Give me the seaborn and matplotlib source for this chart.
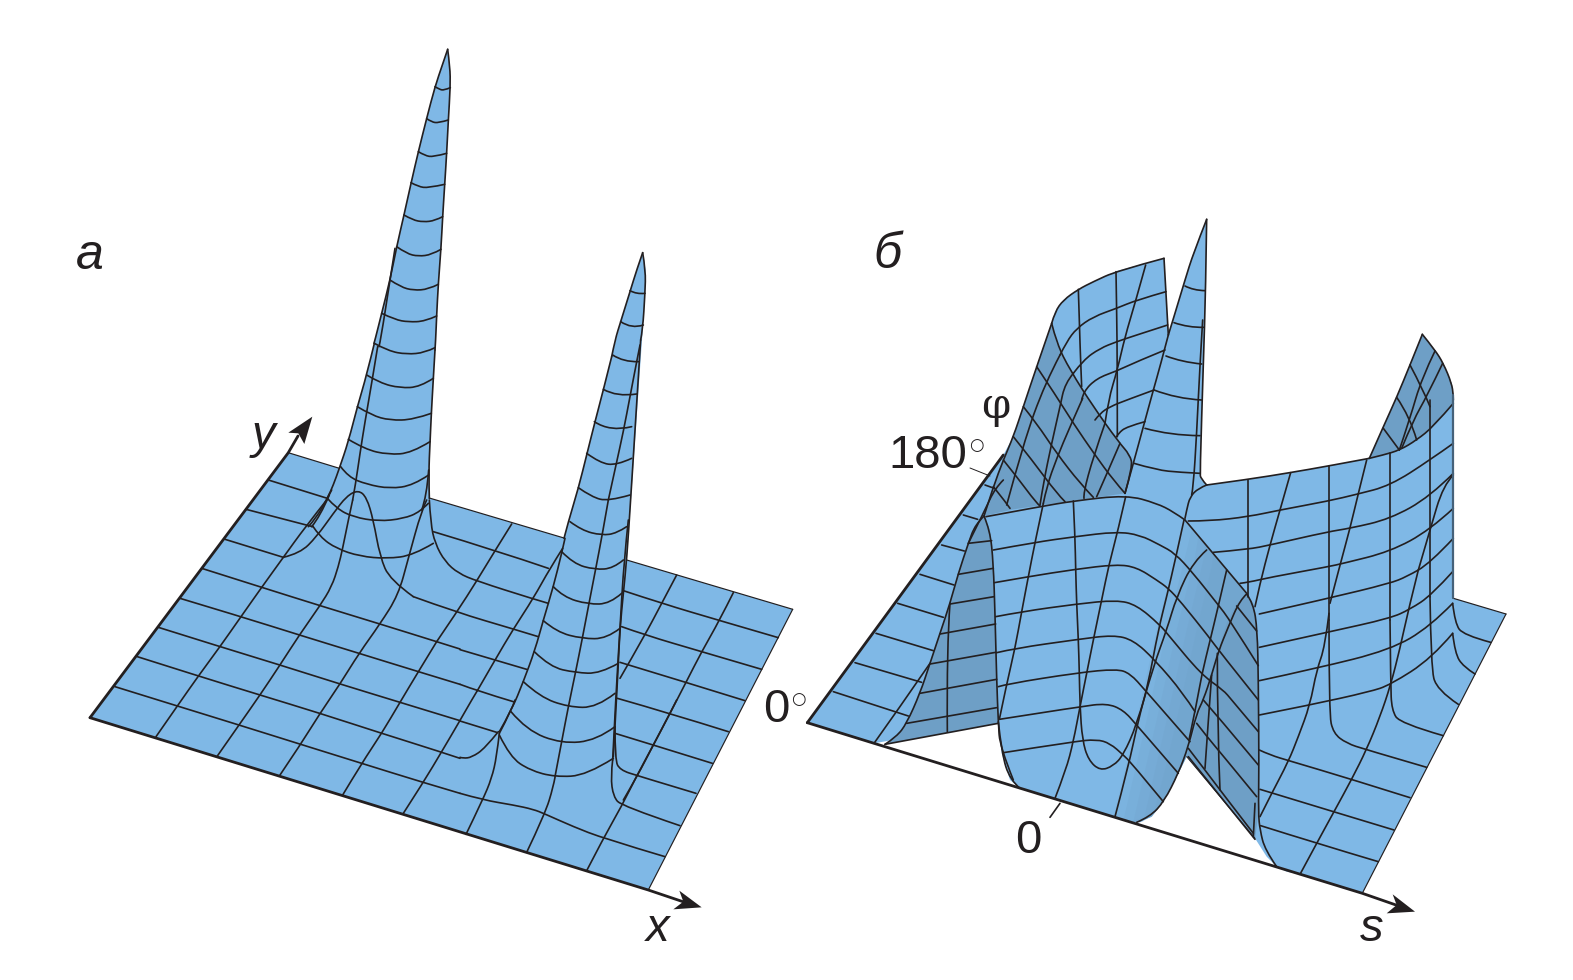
import pandas as pd
import matplotlib
matplotlib.use('Agg')
import matplotlib.pyplot as plt
from matplotlib.patches import PathPatch
from matplotlib.path import Path
import seaborn as sns

LIGHT = '#7FB8E6'
DARK = '#6E9FC6'
INK = '#231F20'

# where each traced sheet sits on the page (traces are in 3x sheet pixels)
SHEETS = {'a1': (280, 40), 'a2': (240, 300), 'a3': (400, 500), 'a4': (60, 500), 'a5': (400, 700),
          'b6': (860, 210), 'b7': (1170, 320), 'b8': (800, 480), 'b9': (960, 480), 'b10': (1170, 570)}

# silhouettes, page pixels
a_outline = [(447.7, 49.3), (450, 66.7), (450.3, 86.7), (448.3, 120), (446.7, 153), (444.7, 185), (442.7, 216.7),
             (441, 248), (438.3, 283), (436.7, 316), (435, 350), (433.3, 378), (431.3, 413), (430, 443), (428.7, 473),
             (429.3, 498), (564, 538), (568.3, 521.7), (578.3, 488), (586.7, 455), (595, 421.7), (603.3, 390),
             (611.7, 356.7), (620.7, 321.7), (630, 291.7), (636.7, 270), (642.7, 252.7), (645.7, 270), (645, 293),
             (642.7, 330), (631, 500), (626.7, 560), (792.7, 609.3), (648.3, 890), (90, 717.7), (288.3, 452.7),
             (339.3, 468.3), (348.3, 441.7), (357.3, 406.7), (366.7, 375), (374.3, 343), (381.7, 313), (390, 280),
             (396.7, 246.7), (404, 215), (411, 183), (418.3, 151.7), (426.7, 118), (435, 86.7), (442.3, 65)]
b_outline = [(807.3, 722.7), (1003.3, 455), (1013.3, 436.7), (1023.3, 406.7), (1036.7, 366.7), (1051.7, 323.3),
             (1055, 311.7), (1063.3, 300), (1078.3, 289.3), (1093.3, 281.7), (1116.7, 271), (1164, 258.3),
             (1168.3, 335), (1175, 313.3), (1185, 280), (1193.3, 253.3), (1206.7, 219.3), (1205.7, 290),
             (1203.3, 363.3), (1200, 473.3), (1200.7, 478.3), (1206.7, 485), (1248.3, 479.3), (1290, 472.7),
             (1328.3, 466), (1369.3, 458.3), (1383.3, 426.7), (1396.7, 397.3), (1410, 365), (1422.3, 334.3),
             (1435, 350), (1443.3, 363.3), (1451.7, 383.3), (1453.3, 395), (1453.3, 598.3), (1506, 614),
             (1362.3, 893.3), (1300, 874.3), (1286.7, 871.7), (1276.7, 866.7), (1266.7, 856.7), (1255, 838.3),
             (1186.7, 756.7), (1176.7, 776.7), (1163.3, 801.7), (1151.7, 816.7), (1140, 822.3), (1130, 821.7),
             (1020, 788.3), (1010, 780), (1001.7, 753.3), (997.7, 721.7), (874, 743.3)]

# shaded parts of panel b
dark_back = [(575, 340), (590, 400), (630, 480), (700, 590), (775, 695), (810, 735), (818, 770), (795, 850),
             (640, 872), (460, 898), (372, 918), (400, 830), (430, 750), (460, 680), (490, 590), (530, 470)]
dark_arch = [(552, 108), (570, 150), (580, 250), (585, 400), (590, 600), (595, 730), (255, 793), (290, 770),
             (320, 730), (360, 640), (390, 550), (420, 460), (450, 370), (475, 280), (505, 190), (525, 135)]
dark_second = [(860, 342), (880, 370), (892, 450), (895, 600), (897, 860), (895, 1000), (885, 1078), (680, 830),
               (720, 690), (775, 510), (800, 430), (830, 370)]
dark_corner = [(598, 415), (640, 320), (680, 232), (720, 135), (757, 43), (795, 90), (820, 130), (845, 190),
               (850, 225), (848, 255), (800, 310), (740, 360), (690, 390), (640, 405)]
slope_edge = [(860, 340), (830, 370), (800, 440), (775, 510), (750, 590), (720, 690), (680, 830), (650, 890),
              (610, 965), (575, 1010), (530, 1027), (510, 1025)]
slope_shade_1 = [(460, 1012), (500, 850), (530, 720), (590, 450), (645, 232), (675, 120)]
slope_shade_2 = [(490, 1022), (530, 850), (560, 720), (620, 450), (675, 232), (695, 150)]
slope_shade_3 = [(520, 1026), (560, 850), (590, 720), (650, 450), (705, 232), (715, 170)]
slope_shade_4 = [(550, 1025), (590, 850), (620, 720), (680, 450), (730, 240), (735, 195)]
slope_shade_5 = [(580, 1005), (620, 850), (650, 720), (710, 450), (755, 260), (760, 225)]

# thick axis edges and thin outer edges, page pixels
a_edges = [[(90, 717.7), (288.3, 452.7), (298, 436)], [(90, 717.7), (648.3, 890), (683, 901.7)]]
b_edges = [[(807.3, 722.7), (1003.3, 455)], [(807.3, 722.7), (874, 743.3), (1362.3, 893.3), (1396, 905)]]
a_thin = [[(288.3, 452.7), (339.3, 468.3)], [(429.3, 498), (564, 538)], [(626.7, 560), (792.7, 609.3)], [(792.7, 609.3), (648.3, 890)]]
b_thin = [[(1453.3, 598.3), (1506, 614)], [(1506, 614), (1362.3, 893.3)]]

a1_lines = [[(503, 28), (487, 75), (465, 140), (440, 235), (415, 335), (393, 430), (372, 525), (350, 620), (330, 720), (305, 820), (285, 900), (282, 910)],
            [(503, 28), (510, 80), (511, 140), (505, 240), (500, 340), (494, 435), (488, 530), (483, 625), (475, 730), (470, 825), (467, 900), (465, 930)],
            [(465, 140), (478, 148), (492, 151), (511, 143)],
            [(440, 236), (455, 246), (475, 249), (505, 240)],
            [(415, 335), (435, 347), (460, 351), (500, 340)],
            [(393, 428), (415, 440), (445, 444), (494, 433)],
            [(372, 525), (398, 540), (430, 546), (465, 542), (488, 530)],
            [(350, 620), (380, 641), (415, 649), (455, 644), (483, 628)],
            [(330, 720), (362, 741), (400, 751), (445, 748), (475, 733)],
            [(305, 820), (345, 839), (385, 846), (435, 844), (470, 828)],
            [(345, 625), (330, 720), (302, 900), (297, 920)],
            [(1088, 638), (1070, 690), (1050, 755), (1022, 845), (1005, 900), (995, 950)],
            [(1088, 638), (1097, 690), (1095, 760), (1088, 870), (1082, 900)],
            [(1050, 752), (1070, 763), (1095, 760)],
            [(1022, 845), (1055, 867), (1090, 855)]]

a2_lines = [[(403, 130), (380, 225), (352, 320), (325, 425), (298, 505), (280, 555), (262, 595), (228, 655), (205, 680)],
            [(585, 150), (580, 235), (574, 340), (570, 430), (566, 520), (568, 595)],
            [(413, 140), (395, 250), (375, 365), (360, 460), (347, 550), (338, 600)],
            [(566, 510), (560, 590), (545, 630)],
            [(403, 130), (445, 153), (500, 163), (555, 158), (585, 143)],
            [(380, 225), (420, 249), (480, 264), (540, 261), (580, 235)],
            [(352, 320), (395, 346), (450, 361), (520, 359), (574, 340)],
            [(325, 418), (375, 448), (445, 464), (515, 459), (570, 425)],
            [(302, 500), (325, 531), (380, 553), (450, 566), (520, 556), (566, 525)],
            [(262, 595), (290, 626), (340, 651), (415, 664), (490, 656), (540, 636), (565, 610)],
            [(218, 678), (240, 711), (290, 746), (360, 769), (440, 776), (520, 766), (580, 730)],
            [(130, 772), (180, 760), (230, 710), (280, 640), (320, 588), (355, 570), (380, 592), (400, 660), (420, 770), (450, 840), (520, 890)],
            [(262, 595), (275, 570)],
            [(215, 680), (240, 650), (268, 585)],
            [(85, 540), (262, 595)],
            [(18, 628), (218, 680)],
            [(580, 695), (770, 752), (925, 805)],
            [(1115, 170), (1090, 270), (1065, 365), (1040, 465), (1015, 565), (985, 665), (972, 715)],
            [(1105, 600), (1128, 495), (1150, 395), (1170, 290), (1190, 185), (1200, 135)],
            [(1118, 165), (1150, 186), (1195, 185)],
            [(1090, 268), (1130, 291), (1190, 282)],
            [(1063, 365), (1110, 396), (1175, 380)],
            [(1040, 460), (1080, 489), (1130, 496), (1175, 475)],
            [(1015, 563), (1055, 591), (1105, 604), (1170, 585)]]

a3_lines = [[(88, 0), (92, 70), (105, 130), (135, 185), (175, 220), (230, 243), (400, 297), (445, 310)],
            [(40, 290), (170, 337), (340, 387), (415, 410)],
            [(180, 449), (285, 480), (380, 508)],
            [(180, 553), (230, 572), (340, 605)],
            [(180, 663), (290, 697)],
            [(180, 772), (190, 775), (215, 772), (255, 745), (295, 695)],
            [(110, 425), (170, 337), (230, 243), (285, 152), (335, 72)],
            [(232, 572), (285, 480), (340, 387), (400, 295), (450, 205), (488, 145)],
            [(298, 695), (335, 630), (370, 545), (405, 450), (430, 360), (460, 260), (485, 160), (495, 115)],
            [(465, 830), (485, 725), (505, 620), (527, 515), (547, 415), (567, 310), (587, 207), (607, 103), (625, 0)],
            [(722, -480), (692, 0), (680, 180), (670, 280), (660, 385), (655, 490), (645, 680), (640, 770)],
            [(685, 60), (672, 180), (660, 385), (648, 580), (638, 780)],
            [(645, 680), (645, 780), (660, 810), (715, 828), (888, 880)],
            [(670, 272), (785, 310), (960, 362), (1135, 413)],
            [(665, 380), (735, 405), (905, 455), (1085, 508)],
            [(660, 487), (858, 547), (1035, 602)],
            [(652, 595), (810, 640), (985, 695)],
            [(645, 700), (760, 735), (937, 790)],
            [(830, 225), (785, 310), (735, 405), (660, 535)],
            [(1000, 278), (958, 362), (905, 455), (858, 547), (810, 640), (760, 735), (712, 828), (670, 900)],
            [(510, 65), (545, 91), (605, 106), (650, 100), (680, 80)],
            [(485, 155), (520, 191), (585, 209), (640, 205), (670, 180)],
            [(460, 260), (490, 291), (565, 313), (630, 311), (665, 280)],
            [(430, 362), (470, 396), (547, 416), (620, 416), (660, 385)],
            [(403, 455), (450, 501), (527, 518), (600, 521), (655, 490)],
            [(370, 545), (420, 591), (505, 621), (590, 623), (645, 580)],
            [(333, 635), (380, 691), (485, 731), (590, 721), (645, 680)],
            [(298, 705), (330, 771), (390, 811), (465, 831), (560, 826), (640, 775)]]

a4_lines = [[(492, 117), (670, 172)],
            [(425, 205), (605, 262), (780, 317), (960, 372), (1130, 425), (1200, 447)],
            [(360, 295), (543, 350), (718, 405), (897, 460), (1075, 515), (1200, 553)],
            [(295, 382), (480, 440), (660, 495), (840, 552), (1020, 607), (1200, 662)],
            [(232, 470), (415, 528), (600, 585), (780, 640), (965, 700), (1140, 755), (1200, 775)],
            [(165, 560), (352, 618), (537, 675), (722, 733), (905, 790), (1088, 847), (1200, 880)],
            [(288, 710), (352, 618), (415, 528), (480, 440), (543, 350), (605, 262), (670, 172), (735, 82), (800, 0)],
            [(472, 768), (537, 675), (600, 585), (660, 495), (718, 405), (780, 317), (815, 260), (835, 200), (848, 145), (865, 60), (878, 0)],
            [(660, 825), (722, 733), (780, 640), (840, 552), (897, 460), (960, 372), (1015, 285), (1045, 175), (1085, 30), (1100, 0)],
            [(848, 885), (905, 790), (965, 700), (1020, 607), (1075, 515), (1130, 425)]]

a5_lines = [[(180, 280), (250, 300), (340, 315), (400, 328), (435, 342), (520, 380), (610, 415), (795, 470)],
            [(10, 340), (70, 247), (125, 155), (178, 65), (215, 0), (232, -28)],
            [(198, 403), (248, 300), (275, 235), (290, 170), (298, 100)],
            [(298, 100), (335, 30), (345, 0)],
            [(380, 457), (435, 342), (460, 260), (465, 232)],
            [(638, 180), (632, 230), (640, 290), (665, 318), (840, 377)],
            [(830, 0), (810, 40), (760, 135), (710, 228), (665, 318), (610, 415), (560, 512)]]

b6_lines = [[(575, 340), (590, 400), (630, 480), (700, 590), (775, 695), (810, 735), (818, 770), (795, 850)],
            [(575, 340), (585, 305), (610, 270), (655, 238), (700, 215), (770, 183), (912, 145)],
            [(912, 145), (925, 375)],
            [(925, 375), (945, 310), (975, 210), (1000, 130), (1040, 28)],
            [(1040, 28), (1037, 240), (1030, 460), (1020, 790), (1022, 805), (1040, 825)],
            [(655, 238), (658, 330), (660, 400), (663, 480), (665, 530)],
            [(768, 185), (770, 300), (772, 480), (772, 680)],
            [(857, 165), (825, 280), (795, 380), (772, 480), (745, 570), (735, 640)],
            [(918, 245), (830, 270), (770, 295), (700, 320), (650, 355), (620, 395), (600, 435)],
            [(923, 345), (830, 375), (770, 395), (720, 415), (670, 450), (640, 490)],
            [(915, 420), (830, 455), (770, 483), (710, 505), (670, 545), (665, 570)],
            [(882, 540), (800, 570), (750, 590), (720, 610), (705, 630)],
            [(855, 635), (800, 650), (775, 670), (770, 680)],
            [(925, 375), (900, 470), (880, 540), (850, 650), (820, 760), (795, 850)],
            [(975, 228), (1000, 241), (1035, 242)],
            [(942, 338), (985, 353), (1032, 352)],
            [(918, 438), (965, 456), (1025, 462)],
            [(882, 540), (950, 566), (1025, 570)],
            [(855, 655), (930, 676), (1020, 677)],
            [(822, 760), (890, 780), (960, 787), (1020, 790)],
            [(530, 470), (590, 560), (640, 640), (705, 735), (760, 810), (795, 850)],
            [(490, 590), (530, 640), (590, 730), (660, 820), (700, 862)],
            [(460, 680), (520, 755), (590, 850), (615, 875)],
            [(430, 750), (470, 800), (530, 880), (540, 888)],
            [(400, 830), (440, 880), (450, 895)],
            [(780, 700), (750, 770), (710, 860)],
            [(600, 435), (555, 520), (490, 700), (440, 885)],
            [(640, 490), (615, 520), (600, 590), (575, 700), (550, 820), (540, 885)],
            [(668, 565), (630, 650), (590, 745), (560, 830), (550, 880)],
            [(735, 640), (700, 740), (670, 850), (672, 865)],
            [(575, 340), (530, 470), (490, 590), (460, 680), (430, 750), (400, 830), (372, 918)]]

b7_lines = [[(110, 495), (235, 478), (360, 458), (475, 438), (598, 415)],
            [(598, 415), (640, 320), (680, 232), (720, 135), (757, 43)],
            [(757, 43), (795, 90), (820, 130), (845, 190), (850, 225), (850, 240)],
            [(98, 0), (90, 130), (80, 340), (70, 500), (65, 525)],
            [(110, 495), (85, 505), (60, 530), (50, 570), (45, 595)],
            [(55, 603), (120, 603), (235, 590), (330, 570), (475, 543), (560, 523), (660, 497), (780, 420), (850, 370)],
            [(130, 697), (235, 688), (300, 675), (475, 635), (540, 625), (660, 597), (780, 530), (850, 460)],
            [(210, 790), (235, 787), (300, 772), (475, 740), (520, 730), (660, 695), (780, 630), (850, 565)],
            [(268, 882), (475, 835), (660, 790), (710, 770), (780, 730), (850, 655)],
            [(235, 480), (235, 830)],
            [(362, 458), (330, 570), (300, 675), (270, 790), (255, 860)],
            [(477, 438), (477, 900)],
            [(590, 420), (565, 520), (540, 625), (510, 735), (480, 850)],
            [(660, 400), (660, 900)],
            [(850, 465), (820, 495), (780, 630), (745, 750)],
            [(780, 240), (780, 830)],
            [(720, 135), (760, 210), (780, 260)],
            [(680, 232), (720, 290), (740, 360)],
            [(640, 325), (688, 390)],
            [(795, 93), (755, 175), (720, 295), (688, 390)],
            [(818, 130), (770, 230), (730, 300), (695, 385)],
            [(598, 415), (640, 405), (690, 390), (740, 360), (790, 320), (850, 250)]]

b8_lines = [[(100, 635), (325, 708)], [(165, 548), (365, 607)], [(228, 460), (400, 512)], [(293, 370), (430, 412)],
            [(360, 283), (462, 315)], [(425, 195), (493, 213)], [(490, 105), (533, 118)], [(555, 15), (583, 25)],
            [(255, 793), (290, 770), (320, 730), (360, 640), (390, 550), (420, 460), (450, 370), (475, 280), (505, 190), (525, 135), (552, 108)],
            [(222, 790), (290, 695), (390, 550)],
            [(505, 190), (555, 90), (585, 25), (610, 0)],
            [(320, 730), (590, 683)], [(360, 640), (590, 598)], [(390, 552), (587, 517)], [(420, 462), (587, 432)],
            [(450, 372), (582, 350)], [(475, 283), (580, 265)], [(505, 190), (575, 182)],
            [(450, 370), (440, 500), (442, 755)],
            [(552, 108), (570, 150), (580, 250), (585, 400), (590, 600), (595, 730), (600, 800), (640, 900)],
            [(255, 793), (595, 730)]]

b9_lines = [[(78, 110), (240, 80), (340, 63), (500, 45), (590, 70), (640, 95), (675, 120)],
            [(675, 120), (860, 340)],
            [(100, 210), (225, 187), (345, 170), (470, 155), (540, 165), (600, 195), (645, 220), (698, 278), (775, 375), (808, 418), (895, 557)],
            [(103, 308), (205, 290), (345, 268), (470, 253), (530, 262), (590, 300), (625, 325), (662, 365), (750, 475), (775, 510), (895, 660)],
            [(107, 410), (185, 395), (350, 372), (470, 360), (530, 375), (600, 435), (625, 465), (725, 585), (790, 630), (815, 660), (895, 755)],
            [(110, 518), (165, 505), (355, 478), (460, 465), (520, 480), (585, 540), (670, 640), (705, 695)],
            [(730, 660), (770, 705), (895, 855)],
            [(710, 730), (745, 775), (775, 810), (890, 950)],
            [(685, 805), (735, 870), (780, 930), (880, 1060)],
            [(830, 378), (890, 453)],
            [(115, 620), (140, 612), (355, 578), (470, 567), (510, 580), (555, 630), (690, 785)],
            [(118, 718), (360, 680), (440, 670), (490, 690), (530, 735), (655, 880)],
            [(130, 818), (340, 785), (410, 778), (450, 790), (490, 825), (515, 850), (610, 965)],
            [(340, 63), (345, 170), (347, 268), (350, 372), (355, 478), (358, 578), (360, 680), (367, 780), (385, 840), (420, 872), (460, 858), (490, 825), (530, 735), (580, 560), (620, 450), (650, 350), (700, 245), (740, 210)],
            [(497, 50), (473, 155), (447, 253), (425, 360), (403, 465), (382, 570), (360, 680), (340, 785), (318, 870), (285, 955)],
            [(250, 70), (225, 187), (205, 290), (185, 395), (165, 505), (140, 612), (118, 718)],
            [(672, 120), (648, 230), (620, 350), (595, 450), (565, 610), (535, 720), (505, 860), (465, 1010)],
            [(800, 270), (775, 378), (750, 482), (725, 585), (712, 660), (687, 780)],
            [(860, 342), (840, 360), (805, 440), (775, 515), (755, 585), (730, 660), (710, 700), (685, 800), (655, 880), (612, 965), (570, 1010), (530, 1027)],
            [(860, 342), (880, 370), (892, 450), (895, 600), (897, 860), (895, 1000), (900, 1050), (915, 1110), (950, 1160)],
            [(115, 725), (125, 820), (150, 900), (180, 925)],
            [(685, 830), (885, 1078)],
            [(300, 970), (270, 1012)]]

b10_lines = [[(268, 232), (480, 185), (660, 145), (720, 118), (785, 75), (848, 5)],
             [(268, 332), (440, 295), (660, 240), (780, 170), (848, 100)],
             [(268, 435), (420, 405), (600, 365), (660, 345), (785, 265), (848, 190)],
             [(477, 150), (477, 430), (490, 490), (530, 520), (585, 538), (770, 592)],
             [(477, 130), (465, 230), (440, 300), (420, 405), (385, 500), (355, 575), (305, 670), (270, 740)],
             [(660, 150), (662, 340), (665, 420), (690, 460), (820, 497)],
             [(745, 0), (715, 120), (690, 235), (662, 345), (630, 440), (590, 538), (545, 628), (492, 725), (440, 820), (390, 913)],
             [(780, 80), (783, 290), (800, 360), (865, 403)],
             [(848, 100), (855, 160), (880, 195), (962, 217)],
             [(848, 190), (855, 250), (880, 290), (915, 312)],
             [(268, 540), (300, 555), (360, 573), (545, 628), (720, 683)],
             [(270, 658), (490, 725), (672, 780)],
             [(272, 767), (440, 820), (625, 875)],
             [(125, 315), (115, 450), (105, 595)],
             [(142, 250), (142, 480), (150, 660)],
             [(255, 700), (250, 800)]]

# arrow heads, 3x sheet pixels
head_y = [(217, 350), (145, 398), (175, 400), (193, 432)]
head_x = [(905, 622), (838, 572), (850, 605), (820, 628)]
head_s = [(735, 1025), (668, 973), (680, 1005), (650, 1030)]

traced = [('a1', a1_lines), ('a2', a2_lines), ('a3', a3_lines), ('a4', a4_lines), ('a5', a5_lines),
          ('b6', b6_lines), ('b7', b7_lines), ('b8', b8_lines), ('b9', b9_lines), ('b10', b10_lines)]


def to_page(sheet, pts):
    ox, oy = SHEETS[sheet]
    return [(ox + x / 3, oy + y / 3) for x, y in pts]


def draw_straight(segments, width, color=INK):
    rows = [(i, x, y) for i, pts in enumerate(segments) for x, y in pts]
    table = pd.DataFrame(rows, columns=['line', 'x', 'y'])
    sns.lineplot(data=table, x='x', y='y', units='line', estimator=None, sort=False, color=color,
                 linewidth=width, solid_capstyle='round', solid_joinstyle='round', legend=False, ax=ax, zorder=4)


def draw_curve(pts, width):
    # traced points act as the control polygon of a quadratic path
    verts = [pts[0]]
    codes = [Path.MOVETO]
    for i in range(1, len(pts) - 1):
        if i < len(pts) - 2:
            end = ((pts[i][0] + pts[i + 1][0]) / 2, (pts[i][1] + pts[i + 1][1]) / 2)
        else:
            end = pts[-1]
        verts += [pts[i], end]
        codes += [Path.CURVE3, Path.CURVE3]
    ax.add_patch(PathPatch(Path(verts, codes), fill=False, edgecolor=INK, lw=width, capstyle='round', zorder=4))


sns.set_theme(style='white')
plt.rcParams['font.family'] = ['Liberation Sans', 'DejaVu Sans']

fig = plt.figure(figsize=(15.73, 9.8), dpi=100)
ax = fig.add_axes([0, 0, 1, 1])

# surfaces
ax.fill(*zip(*a_outline), color=LIGHT, lw=0, zorder=1)
ax.fill(*zip(*b_outline), color=LIGHT, lw=0, zorder=1)
ax.fill(*zip(*to_page('b6', dark_back)), color=DARK, lw=0, zorder=2)
ax.fill(*zip(*to_page('b8', dark_arch)), color=DARK, lw=0, zorder=2)
ax.fill(*zip(*to_page('b7', dark_corner)), color=DARK, lw=0, zorder=2)
# soft shading down the ridge
for shade in [slope_shade_1, slope_shade_2, slope_shade_3, slope_shade_4, slope_shade_5]:
    ax.fill(*zip(*to_page('b9', shade + slope_edge)), color=DARK, alpha=0.2, lw=0, zorder=2)
ax.fill(*zip(*to_page('b9', dark_second)), color=DARK, lw=0, zorder=3)

# mesh
straight = []
for sheet, lines in traced:
    for pts in lines:
        page = to_page(sheet, pts)
        if len(page) == 2:
            straight.append(page)
        else:
            draw_curve(page, 1.2)
draw_straight(straight, 1.2)
draw_straight(a_thin + b_thin, 0.85)
draw_straight(a_edges + b_edges, 2.0)
draw_straight([[(1453.3, 395), (1453.3, 598.3)]], 1.6, '#46627A')
draw_straight([[(970, 468), (990, 476)], [(1186.7, 756.7), (1255, 838.3)]], 0.7)

# arrows
for sheet, head in [('a2', head_y), ('a5', head_x), ('b10', head_s)]:
    ax.fill(*zip(*to_page(sheet, head)), color=INK, lw=0, zorder=5)

# labels
ax.text(90, 256, 'а', fontsize=36, style='italic', ha='center', va='center', color=INK)
ax.text(888, 255, 'б', fontsize=36, style='italic', ha='center', va='center', color=INK)
ax.text(263, 436, 'y', fontsize=34, style='italic', ha='center', va='center', color=INK)
ax.text(658, 929, 'x', fontsize=34, style='italic', ha='center', va='center', color=INK)
ax.text(1372, 929, 's', fontsize=34, style='italic', ha='center', va='center', color=INK)
ax.text(996, 406, 'φ', fontsize=30, ha='center', va='center', color=INK, family='DejaVu Serif')
ax.text(928, 456, '180', fontsize=34, ha='center', va='center', color=INK)
ax.text(976, 445, '○', fontsize=12, ha='center', va='center', color=INK, family='DejaVu Sans')
ax.text(776, 710, '0', fontsize=34, ha='center', va='center', color=INK)
ax.text(798, 699, '○', fontsize=12, ha='center', va='center', color=INK, family='DejaVu Sans')
ax.text(1028, 841, '0', fontsize=34, ha='center', va='center', color=INK)

ax.set_xlim(0, 1573)
ax.set_ylim(980, 0)
ax.axis('off')
fig.savefig('out.png', dpi=100, facecolor='white')
